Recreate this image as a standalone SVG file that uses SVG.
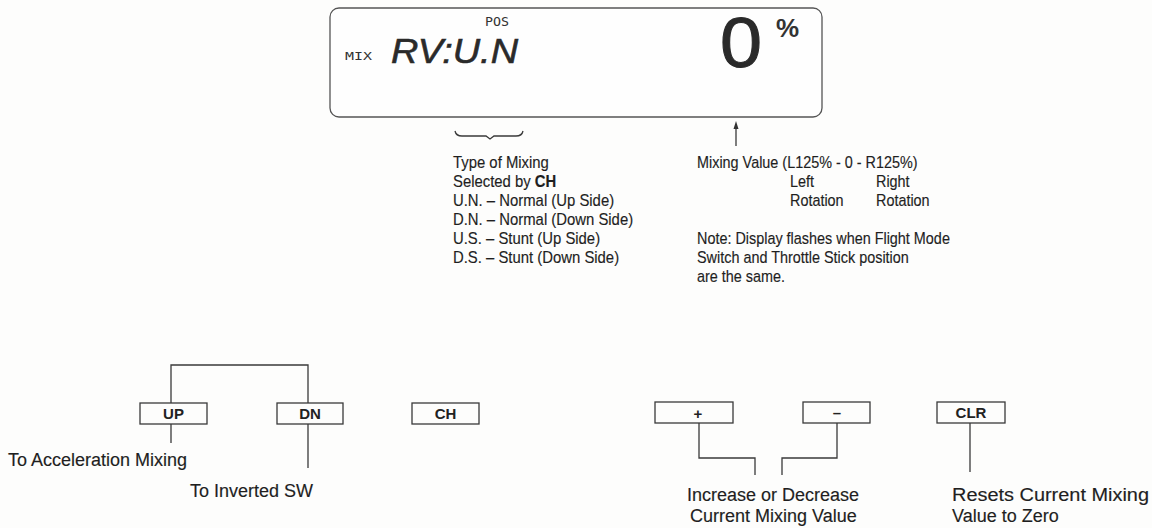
<svg xmlns="http://www.w3.org/2000/svg" width="1152" height="528" viewBox="0 0 1152 528">
<defs>
<style>
.t{font-family:"Liberation Sans",Arial,sans-serif;font-size:16px;fill:#1f1f1f;stroke:#1f1f1f;stroke-width:0.15}
.tl{font-family:"Liberation Sans",Arial,sans-serif;font-size:18px;fill:#1f1f1f;stroke:#1f1f1f;stroke-width:0.15}
.b{font-weight:bold}
.key{fill:none;stroke:#3a3a3a;stroke-width:1.3}
.kt{font-family:"Liberation Sans",Arial,sans-serif;font-size:15px;font-weight:bold;fill:#222;text-anchor:middle}
.ln{fill:none;stroke:#3a3a3a;stroke-width:1.3}
.lcd{font-family:"DejaVu Sans Mono","Liberation Mono",monospace;fill:#333}
</style>
</defs>
<rect width="1152" height="528" fill="#fdfdfc"/>

<g id="lcd">
<rect x="330" y="8" width="492" height="109" rx="9" fill="#fefefe" stroke="#555" stroke-width="1.3"/>
<text class="lcd" x="485" y="26" font-size="12" textLength="24" lengthAdjust="spacingAndGlyphs">POS</text>
<text class="lcd" x="345" y="60" font-size="11" textLength="27" lengthAdjust="spacingAndGlyphs">MIX</text>
<text x="391" y="63" font-family="Liberation Sans,Arial,sans-serif" font-style="italic" font-size="35" fill="#2a2a2a" stroke="#2a2a2a" stroke-width="0.6" textLength="127" lengthAdjust="spacingAndGlyphs">RV:U.N</text>
<text x="720" y="67" font-family="Liberation Sans,Arial,sans-serif" font-size="70" fill="#2a2a2a" stroke="#2a2a2a" stroke-width="1" textLength="42" lengthAdjust="spacingAndGlyphs">0</text>
<text x="776" y="37" font-family="Liberation Sans,Arial,sans-serif" font-size="26" font-weight="bold" fill="#333">%</text>
</g>

<g id="type-of-mixing">
<text class="t" transform="translate(453,168) scale(0.93,1)">Type of Mixing</text>
<text class="t" transform="translate(453,187) scale(0.93,1)">Selected by <tspan class="b">CH</tspan></text>
<text class="t" transform="translate(453,206) scale(0.93,1)">U.N. – Normal (Up Side)</text>
<text class="t" transform="translate(453,225) scale(0.93,1)">D.N. – Normal (Down Side)</text>
<text class="t" transform="translate(453,244) scale(0.93,1)">U.S. – Stunt (Up Side)</text>
<text class="t" transform="translate(453,263) scale(0.93,1)">D.S. – Stunt (Down Side)</text>
</g>

<g id="mixing-value">
<text class="t" transform="translate(697,168) scale(0.9,1)">Mixing Value (L125% - 0 - R125%)</text>
<text class="t" transform="translate(790,187) scale(0.9,1)">Left</text>
<text class="t" transform="translate(876,187) scale(0.9,1)">Right</text>
<text class="t" transform="translate(790,206) scale(0.9,1)">Rotation</text>
<text class="t" transform="translate(876,206) scale(0.9,1)">Rotation</text>
</g>

<g id="note">
<text class="t" transform="translate(697,244) scale(0.9,1)">Note: Display flashes when Flight Mode</text>
<text class="t" transform="translate(697,263) scale(0.9,1)">Switch and Throttle Stick position</text>
<text class="t" transform="translate(697,282) scale(0.9,1)">are the same.</text>
</g>

<g id="key-up"><rect class="key" x="140" y="403" width="67" height="21"/><text class="kt" x="173.5" y="419">UP</text></g>
<g id="key-dn"><rect class="key" x="277" y="403" width="66" height="21"/><text class="kt" x="310" y="419">DN</text></g>
<g id="key-ch"><rect class="key" x="412" y="403" width="67" height="21"/><text class="kt" x="445.5" y="419">CH</text></g>
<g id="key-plus"><rect class="key" x="655" y="402" width="78" height="21"/><text class="kt" x="698" y="419" font-size="17">+</text></g>
<g id="key-minus"><rect class="key" x="803" y="402" width="67" height="21"/><text class="kt" x="837" y="418">–</text></g>
<g id="key-clr"><rect class="key" x="937" y="402" width="68" height="21"/><text class="kt" x="971" y="418">CLR</text></g>

<g id="labels">
<text class="tl" x="8" y="466">To Acceleration Mixing</text>
<text class="tl" x="190" y="497">To Inverted SW</text>
<text class="tl" x="687" y="501">Increase or Decrease</text>
<text class="tl" x="690" y="522">Current Mixing Value</text>
<text class="tl" x="952" y="501" textLength="197" lengthAdjust="spacingAndGlyphs">Resets Current Mixing</text>
<text class="tl" x="952" y="522">Value to Zero</text>
</g>

<g id="connectors">
<path class="ln" stroke-width="1" d="M455,131 Q456,136 462,136 L486,136 L490,139 L494,136 L516,136 Q522,136 523,131"/>
<line class="ln" stroke-width="1.1" x1="736" y1="146" x2="736" y2="127"/>
<polygon points="736,121 733.5,129 738.5,129" fill="#333"/>
<path class="ln" d="M171,403 V365 H308 V403"/>
<path class="ln" d="M171,424 V443"/>
<path class="ln" d="M308,424 V468"/>
<path class="ln" d="M699,423 V458 H755 V475"/>
<path class="ln" d="M837,423 V458 H782 V475"/>
<path class="ln" d="M970,423 V472"/>
</g>
</svg>
